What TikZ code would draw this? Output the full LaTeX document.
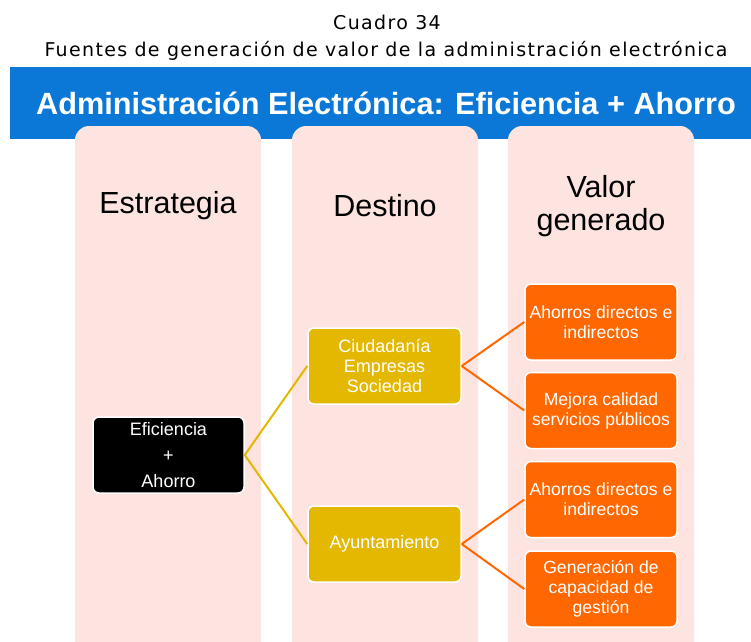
\documentclass[tikz,border=0pt]{standalone}
\usepackage{fontspec}
\setmainfont{Liberation Sans}
\newfontfamily\capfont[LetterSpace=7]{DejaVu Sans}
\usetikzlibrary{positioning}

\definecolor{bandblue}{RGB}{11,120,215}
\definecolor{colpink}{RGB}{253,228,225}
\definecolor{boxyellow}{RGB}{228,184,0}
\definecolor{boxorange}{RGB}{255,104,0}

\tikzset{
  colbox/.style={fill=colpink,rounded corners=14pt},
  capline/.style={anchor=base,font=\capfont\fontsize{19}{22}\selectfont},
  head/.style={font=\fontsize{30.5}{33}\selectfont,align=center},
  stratbox/.style={fill=black,draw=white,line width=1.5pt,rounded corners=6pt,
    minimum width=151pt,minimum height=76pt,inner xsep=0.5pt,
    align=center,text=white,font=\fontsize{18}{26}\selectfont},
  destbox/.style={stratbox,fill=boxyellow,minimum width=153pt,
    font=\fontsize{18}{20}\selectfont},
  valbox/.style={stratbox,fill=boxorange,minimum width=152pt,
    font=\fontsize{17.6}{20}\selectfont},
  ylink/.style={boxyellow,line width=2pt},
  olink/.style={boxorange,line width=2pt}
}

\begin{document}
\begin{tikzpicture}[x=1pt,y=-1pt]
\useasboundingbox (0,0) rectangle (751,641);
% title
\node[capline] (num) at (387,29) {Cuadro 34};
\node[capline] (cap) at (386,56) {Fuentes de generación de valor de la administración electrónica};
% band and columns
\fill[bandblue] (10,67) rectangle (751,139);
\node[text=white,font=\bfseries\fontsize{30.7}{36}\selectfont] (band) at (386,103) {Administración Electrónica: Eficiencia + Ahorro};
\foreach \x in {75,292,508}
  \fill[colbox] (\x,126) rectangle ++(186,530);
\node[head] (h1) at (168,206) {Estrategia};
\node[head] (h2) at (385,206) {Destino};
\node[head] (h3) at (601,206) {Valor\\generado};
% boxes
\node[stratbox] (efi) at (168.5,455) {Eficiencia\\+\\Ahorro};
\node[destbox] (ciu) at (384.5,366) {Ciudadanía\\Empresas\\Sociedad};
\node[destbox] (ayu) at (384.5,544) {Ayuntamiento};
\node[valbox] (ah1) at (601,322) {Ahorros directos e\\indirectos};
\node[valbox] (mej) at (601,410.5) {Mejora calidad\\servicios públicos};
\node[valbox] (ah2) at (601,499.5) {Ahorros directos e\\indirectos};
\node[valbox] (gen) at (601,589) {Generación de\\capacidad de\\gestión};
% links
\draw[ylink] (efi.east)--(ciu.west) (efi.east)--(ayu.west);
\draw[olink] (ciu.east)--(ah1.west) (ciu.east)--(mej.west);
\draw[olink] (ayu.east)--(ah2.west) (ayu.east)--(gen.west);
\end{tikzpicture}
\end{document}
